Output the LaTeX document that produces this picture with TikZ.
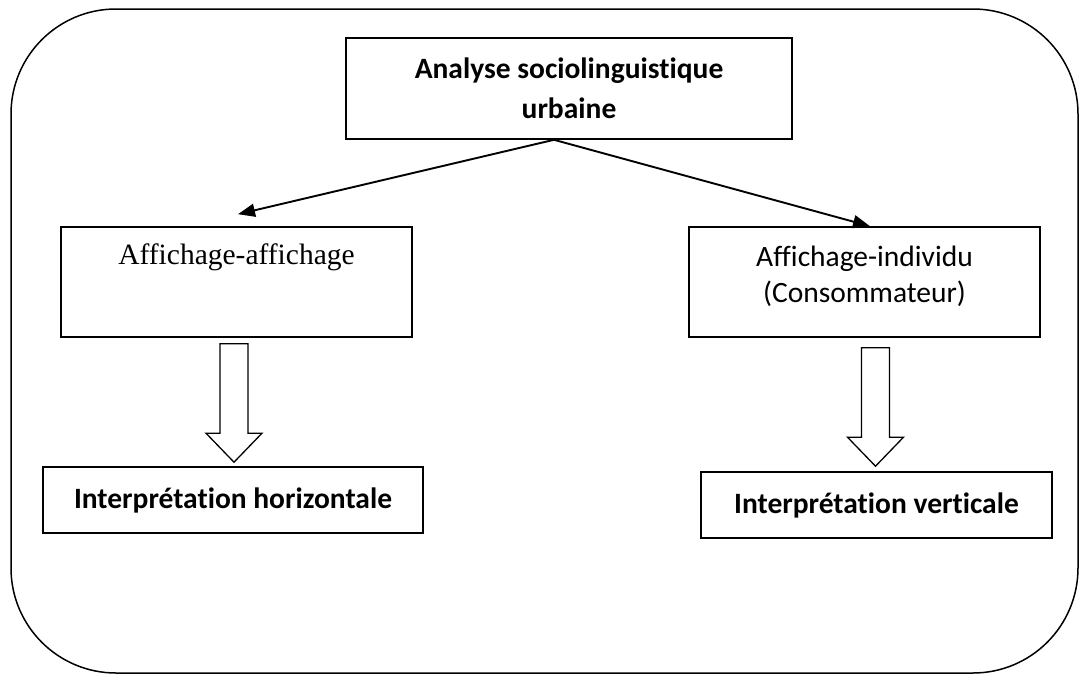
\documentclass[tikz,border=0pt]{standalone}
\usepackage{fontspec}
\setmainfont[Ligatures=NoCommon]{Carlito}
\newfontfamily\timesfont{Liberation Serif}
\usetikzlibrary{arrows.meta,calc}
\newcommand{\bigarrow}[2]{%
  \draw[hollow] let \p1=(#1), \p2=(#2) in
    (\x1-14pt,\y1) -- (\x1+14pt,\y1) -- (\x1+14pt,\y2+29pt) -- (\x1+28pt,\y2+29pt)
    -- (\x2,\y2) -- (\x1-28pt,\y2+29pt) -- (\x1-14pt,\y2+29pt) -- cycle;}

\begin{document}
\begin{tikzpicture}[x=1pt,y=-1pt]
  \tikzset{box/.style={draw,line width=1.6pt,inner sep=0pt,align=center}}
  \tikzset{link/.style={-{Triangle[length=17pt,width=13pt]},line width=1.9pt}}
  \tikzset{hollow/.style={draw,fill=white,line width=1.3pt,line join=miter}}
  \tikzset{bold text/.style={font=\bfseries\fontsize{29.5}{40}\selectfont}}
  \useasboundingbox (0,0) rectangle (1080,675);
  \draw[line width=1.5pt,rounded corners=105pt] (11,9) rectangle (1078,673);
  \node[box,bold text,minimum width=446,minimum height=101] (analyse) at (569,88.5)
    {Analyse sociolinguistique\\urbaine};
  \node[box,font=\timesfont\fontsize{29.5}{36}\selectfont,minimum width=351,
    text height=37pt,text depth=73pt] (affA) at (236.5,282) {Affichage-affichage};
  \node[box,font=\fontsize{29.5}{36}\selectfont,minimum width=351,minimum height=110] (affI) at (864.5,282)
    {Affichage-individu\\(Consommateur)\\[-20pt]};
  \node[box,bold text,minimum width=380,minimum height=66] (horiz) at (233,500)
    {Interprétation horizontale};
  \node[box,bold text,minimum width=351,minimum height=66] (vert) at (876.5,505)
    {Interprétation verticale};
  \coordinate (fork) at ([xshift=-15pt]analyse.south);
  \draw[link] (fork) -- ([xshift=1.5pt,yshift=12pt]affA.north);
  \draw[link] (fork) -- ([xshift=5.5pt]affI.north);
  % hollow arrows
  \coordinate (fromA) at ([xshift=-2.5pt,yshift=-6pt]affA.south);
  \coordinate (toA) at ([xshift=1pt,yshift=4pt]horiz.north);
  \coordinate (fromI) at ([xshift=11pt,yshift=-10pt]affI.south);
  \coordinate (toI) at ([xshift=-1pt,yshift=5pt]vert.north);
  \bigarrow{fromA}{toA}
  \bigarrow{fromI}{toI}
\end{tikzpicture}
\end{document}
